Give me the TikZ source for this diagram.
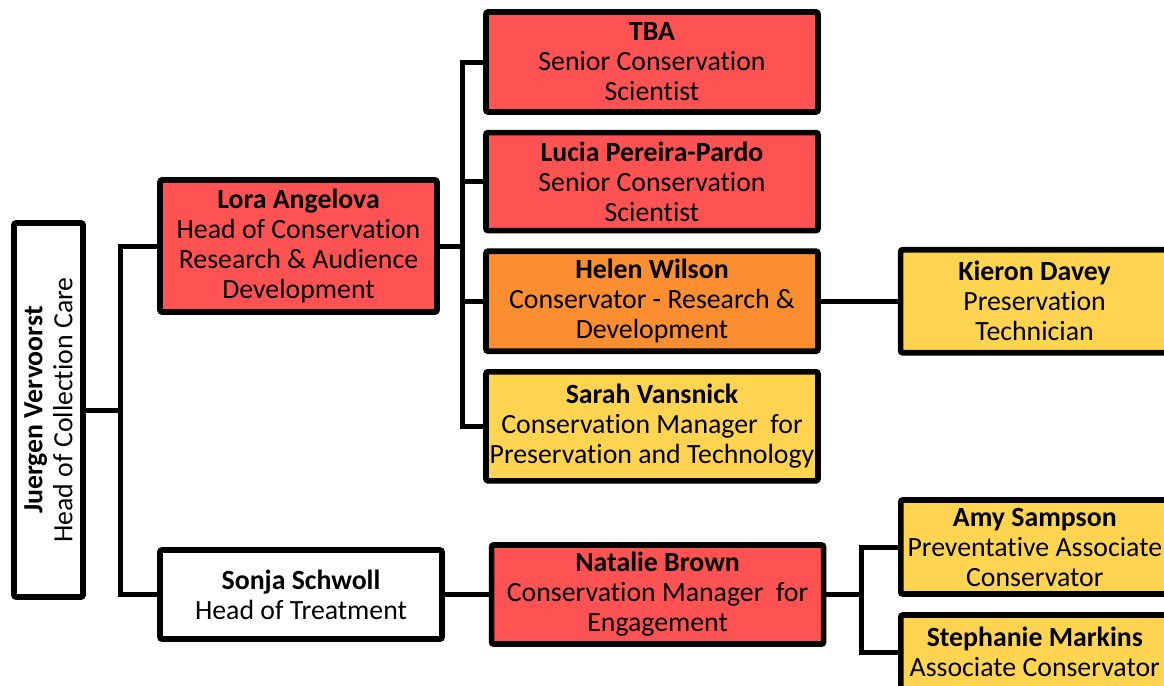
\documentclass[tikz,border=0pt]{standalone}
\usepackage{fontspec}
\setmainfont{Carlito}[Ligatures=NoCommon]
\usepackage{tikz}
\usetikzlibrary{positioning}

\definecolor{postred}{RGB}{255,82,82}
\definecolor{postorange}{RGB}{250,142,48}
\definecolor{postyellow}{RGB}{255,212,80}

\begin{document}
\begin{tikzpicture}[
    x=0.5pt, y=-0.5pt,
    post/.style={draw=black, line width=2.8pt, rounded corners=1pt,
                 align=center, inner sep=0pt,
                 font=\fontsize{13.9}{15}\selectfont},
    redpost/.style={post, fill=postred},
    orangepost/.style={post, fill=postorange},
    yellowpost/.style={post, fill=postyellow},
    whitepost/.style={post, fill=white},
    link/.style={line width=2.5pt},
    node distance=7.5pt and 38.5pt
  ]
  \useasboundingbox (0,0) rectangle (1164,686);
  \clip (0,0) rectangle (1164,686);

  % head of department, set sideways
  \node[whitepost, rotate=90, minimum width=187pt, minimum height=34.5pt]
    (jv) at (48.5,410) {\textbf{Juergen Vervoorst}\\Head of Collection Care};

  % second level
  \node[redpost, minimum width=138.5pt, minimum height=66pt] (lora) at (298.5,246)
    {\textbf{Lora Angelova}\\Head of Conservation\\Research \& Audience\\Development};
  \node[whitepost, minimum width=141pt, minimum height=44.5pt] (sonja) at (301,594.5)
    {\textbf{Sonja Schwoll}\\Head of Treatment};

  % research column
  \node[redpost, minimum width=166pt, minimum height=50pt] (tba) at (652,62)
    {\textbf{TBA}\\Senior Conservation\\Scientist};
  \node[redpost, minimum width=166pt, minimum height=49pt, below=of tba] (lucia)
    {\textbf{Lucia Pereira-Pardo}\\Senior Conservation\\Scientist};
  \node[orangepost, minimum width=166pt, minimum height=50pt, below=of lucia] (helen)
    {\textbf{Helen Wilson}\\Conservator - Research \&\\Development};
  \node[yellowpost, minimum width=166pt, minimum height=54.5pt, below=of helen] (sarah)
    {\textbf{Sarah Vansnick}\\Conservation Manager\ \ for\\Preservation and Technology};
  \node[yellowpost, minimum width=134pt, minimum height=51.5pt, right=of helen] (kieron)
    {\textbf{Kieron Davey}\\Preservation\\Technician};

  % treatment branch
  \node[redpost, minimum width=166pt, minimum height=49.5pt, right=22pt of sonja] (natalie)
    {\textbf{Natalie Brown}\\Conservation Manager\ \ for\\Engagement};
  \node[yellowpost, minimum width=134pt, minimum height=47pt, anchor=west] (amy) at (898,547)
    {\textbf{Amy Sampson}\\Preventative Associate\\Conservator};
  \node[yellowpost, minimum width=134pt, minimum height=37pt, anchor=west] (steph) at (898,652)
    {\textbf{Stephanie Markins}\\Associate Conservator};

  % buses
  \coordinate (jbus) at (120,410);
  \coordinate (lbus) at (462,246);
  \coordinate (nbus) at (861,594.5);

  \draw[link] (jv.south) -- (jbus);
  \draw[link] (lora.west) -| (jbus) |- (sonja.west);

  \draw[link] (lora.east) -- (lbus);
  \draw[link] (tba.west) -| (lbus) |- (sarah.west);
  \draw[link] (lucia.west) -- (lucia.west -| lbus);
  \draw[link] (helen.west) -- (helen.west -| lbus);
  \draw[link] (helen.east) -- (kieron.west);

  \draw[link] (sonja.east) -- (natalie.west);
  \draw[link] (natalie.east) -- (nbus);
  \draw[link] (amy.west) -| (nbus) |- (steph.west);
\end{tikzpicture}
\end{document}
